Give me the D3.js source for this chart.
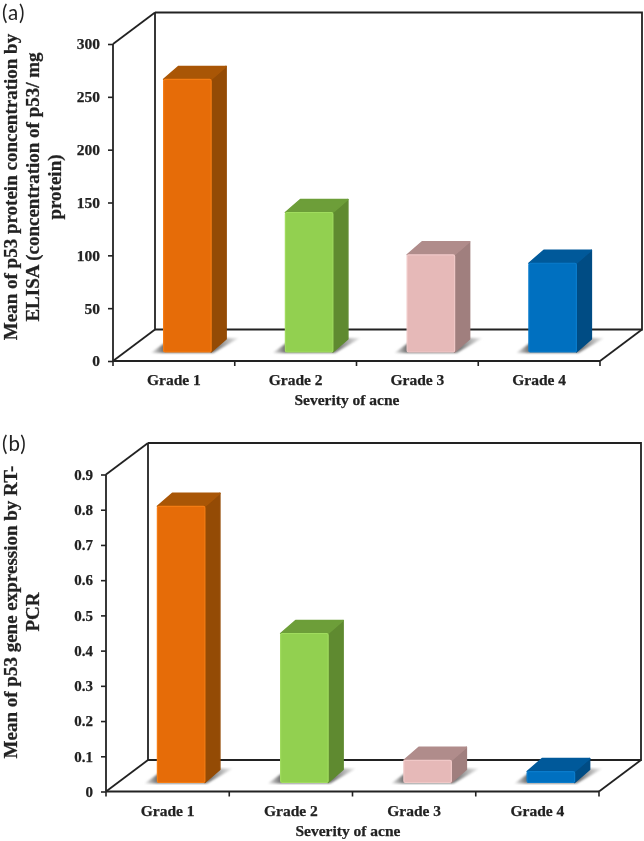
<!DOCTYPE html>
<html>
<head>
<meta charset="utf-8">
<script src="https://cdn.jsdelivr.net/npm/d3@7"></script>
<style>
html, body { margin: 0; padding: 0; background: #fff; }
svg { display: block; filter: blur(0.5px); }
</style>
</head>
<body>
<script>
let categories = ["Grade 1", "Grade 2", "Grade 3", "Grade 4"]
let elisaValues = [258, 132, 92, 84]
let elisaTicks = [0, 50, 100, 150, 200, 250, 300]
let pcrValues = [0.784, 0.423, 0.063, 0.031]
let pcrTicks = [0, 0.1, 0.2, 0.3, 0.4, 0.5, 0.6, 0.7, 0.8, 0.9]
let xTitle = "Severity of acne"
let elisaTitle = ["Mean of p53 protein concentration by", "ELISA (concentration of p53/ mg", "protein)"]
let pcrTitle = ["Mean of p53 gene expression by RT-", "PCR"]

let frontColors = ["#e66c08", "#92d050", "#e6b9b8", "#0070c0"]
let edgeColors = ["#f57c12", "#a0dc5e", "#f0c8c7", "#0a7ccc"]
let sideColors = ["#944b05", "#5f8a30", "#a07f7e", "#004c84"]
let topColors = ["#a95606", "#6d9e39", "#b08c8b", "#00599a"]

let serif = "'Liberation Serif', serif"
let svg = d3.select("body").append("svg").attr("width", 644).attr("height", 841)

let defs = svg.append("defs")
let shade = defs.append("linearGradient").attr("id", "shade")
shade.append("stop").attr("offset", "0").attr("stop-color", "#f4f4f4")
shade.append("stop").attr("offset", "0.14").attr("stop-color", "#737373")
shade.append("stop").attr("offset", "0.75").attr("stop-color", "#7c7c7c")
shade.append("stop").attr("offset", "1").attr("stop-color", "#f4f4f4")
defs.append("filter").attr("id", "soft").append("feGaussianBlur").attr("stdDeviation", 1)

function boldText(sel, size){
    sel.attr("font-family", serif)
        .attr("font-weight", "bold")
        .attr("font-size", size)
        .attr("fill", "#222")
        .attr("stroke", "#222")
        .attr("stroke-width", 0.25)
}

function drawPanel(p){
    let g = svg.append("g")
    let y = d3.scaleLinear().domain([0, p.ticks[p.ticks.length - 1]]).range([p.y0, p.yTop])
    let x = d3.scaleBand().domain(categories).range([p.xLeft, p.xRight])
    let floorY = p.y0 - p.depthY
    let wallLeft = p.xLeft + p.depthX
    let wallRight = p.xRight + p.depthX
    let wallTop = p.yTop - p.depthY

    // back wall and floor edges
    let frame = [
        [[wallLeft, wallTop], [wallRight, wallTop], [wallRight, floorY], [wallLeft, floorY], [wallLeft, wallTop]],
        [[p.xLeft, p.yTop], [wallLeft, wallTop]],
        [[p.xLeft, p.y0], [wallLeft, floorY]],
        [[p.xRight, p.y0], [wallRight, floorY]]
    ]
    g.selectAll("path.frame").data(frame).join("path")
        .attr("class", "frame")
        .attr("d", d3.line())
        .attr("fill", "none")
        .attr("stroke", "#222")
        .attr("stroke-width", 1.8)

    // axes
    let yAxis = d3.axisLeft(y).tickValues(p.ticks).tickSize(5).tickPadding(8)
        .tickFormat(d => d3.format(p.format)(d))
    let yG = g.append("g").attr("transform", `translate(${p.xLeft},0)`).call(yAxis)
    yG.select(".domain").attr("d", `M0,${p.yTop}V${p.y0}`).attr("stroke", "#222").attr("stroke-width", 1.8)
    yG.selectAll(".tick line").attr("stroke", "#222").attr("stroke-width", 1.6)
    boldText(yG.selectAll("text"), p.tickSize)

    let xAxis = d3.axisBottom(x).tickSize(0).tickPadding(13)
    let xG = g.append("g").attr("transform", `translate(0,${p.y0})`).call(xAxis)
    xG.select(".domain").attr("d", `M${p.xLeft},0H${p.xRight}`).attr("stroke", "#222").attr("stroke-width", 1.8)
    boldText(xG.selectAll("text"), 15.5)
    let edges = categories.map(c => x(c)).concat([p.xRight])
    xG.selectAll("line.edge").data(edges).join("line")
        .attr("class", "edge")
        .attr("x1", d => d).attr("x2", d => d)
        .attr("y1", 0).attr("y2", 5)
        .attr("stroke", "#222").attr("stroke-width", 1.6)

    // bars
    let barW = 47.5
    let dx = 15
    let dy = 13
    let baseY = p.y0 - 9
    p.values.forEach((v, i) => {
        let cx = x(categories[i]) + x.bandwidth() / 2 + 13.5
        let x0 = cx - barW / 2
        let x1 = cx + barW / 2
        let yT = y(v) - 9
        let bar = g.append("g")
        bar.append("polygon")
            .attr("points", [[x0 - 13, baseY + 1], [x1 + 2, baseY + 1], [x1 + 28, baseY - 14], [x0 + 8, baseY - 14]].join(" "))
            .attr("fill", "url(#shade)")
            .attr("filter", "url(#soft)")
        bar.append("polygon")
            .attr("points", [[x1, yT], [x1 + dx, yT - dy], [x1 + dx, baseY - dy], [x1, baseY]].join(" "))
            .attr("fill", sideColors[i]).attr("stroke", sideColors[i]).attr("stroke-linejoin", "round").attr("stroke-width", 1.5)
        bar.append("polygon")
            .attr("points", [[x0, yT], [x0 + dx, yT - dy], [x1 + dx, yT - dy], [x1, yT]].join(" "))
            .attr("fill", topColors[i]).attr("stroke", topColors[i]).attr("stroke-linejoin", "round").attr("stroke-width", 1.5)
        bar.append("rect")
            .attr("x", x0).attr("y", yT)
            .attr("width", barW).attr("height", baseY - yT)
            .attr("rx", 1.5)
            .attr("fill", frontColors[i])
            .attr("stroke", edgeColors[i]).attr("stroke-width", 1.2)
    })

    // titles
    boldText(g.append("text")
        .attr("x", p.xTitleX).attr("y", p.y0 + 44)
        .attr("text-anchor", "middle")
        .text(xTitle), 15.5)

    p.title.forEach((line, i) => {
        let lx = 17 + i * 22
        boldText(g.append("text")
            .attr("transform", `translate(${lx},${p.titleY}) rotate(-90)`)
            .attr("text-anchor", "middle")
            .text(line), 19)
    })

    g.append("text")
        .attr("x", 2).attr("y", p.letterY)
        .attr("font-family", "Lato, sans-serif").attr("font-size", 20.5).attr("letter-spacing", 1).attr("fill", "#222")
        .text(p.letter)
}

drawPanel({
    letter: "(a)", letterY: 20, values: elisaValues, ticks: elisaTicks, format: "d", title: elisaTitle,
    xLeft: 113, xRight: 600, y0: 361, yTop: 44, depthX: 42, depthY: 31.5,
    titleY: 187, xTitleX: 347, tickSize: 15.5
})
drawPanel({
    letter: "(b)", letterY: 451, values: pcrValues, ticks: pcrTicks, format: "~g", title: pcrTitle,
    xLeft: 106, xRight: 599, y0: 791.5, yTop: 474.5, depthX: 42, depthY: 31.5,
    titleY: 612, xTitleX: 348, tickSize: 15
})
</script>
</body>
</html>
